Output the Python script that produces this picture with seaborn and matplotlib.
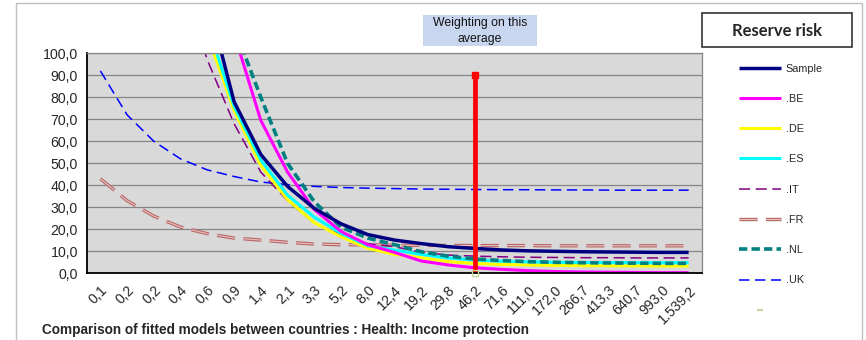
import matplotlib
matplotlib.use("Agg")
import matplotlib.pyplot as plt
from matplotlib.lines import Line2D
from matplotlib.patches import Rectangle
from matplotlib.legend_handler import HandlerTuple
import numpy as np
import pandas as pd
import seaborn as sns

# ---- data -------------------------------------------------------------
categories = ["0,1", "0,2", "0,2", "0,4", "0,6", "0,9", "1,4", "2,1", "3,3", "5,2",
              "8,0", "12,4", "19,2", "29,8", "46,2", "71,6", "111,0", "172,0",
              "266,7", "413,3", "640,7", "993,0", "1.539,2"]

sample = [520, 330, 230, 165, 125, 78, 54, 39.5, 29.5, 22.5, 17.6, 15.1, 13.5, 12.1,
          11.3, 10.6, 10.2, 10.0, 9.8, 9.7, 9.6, 9.5, 9.5]
be = [800, 480, 320, 210, 150, 109, 69.5, 46, 29, 19, 13, 9.5, 5.6, 3.8, 2.5, 1.8,
      1.2, 0.8, 0.6, 0.5, 0.4, 0.3, 0.3]
de = [480, 300, 200, 145, 108.5, 74, 49, 33.5, 23, 16.6, 11.4, 8.6, 7.1, 5.3, 4.5,
      4.0, 3.8, 3.6, 3.5, 3.4, 3.4, 3.3, 3.3]
es = [500, 310, 210, 150, 113, 76, 51.5, 35.5, 25.5, 18.2, 12.5, 10.6, 8.6, 7.0,
      6.0, 5.5, 5.2, 5.0, 4.9, 4.9, 4.8, 4.8, 4.8]
it = [420, 260, 180, 135, 97, 68, 46, 33, 22.7, 17.6, 13.5, 12.1, 9.5, 8.3, 7.8,
      7.5, 7.3, 7.2, 7.1, 7.1, 7.0, 7.0, 7.0]
fr = [43, 33, 26, 21, 18, 16, 15.1, 14.1, 13.3, 13.0, 12.9, 12.8, 12.7, 12.7, 12.6,
      12.6, 12.6, 12.5, 12.5, 12.5, 12.5, 12.5, 12.5]
nl = [900, 550, 360, 240, 165, 112, 80, 50, 32.5, 21, 16, 13, 9.8, 7.8, 6.5, 5.8,
      5.3, 5.0, 4.8, 4.7, 4.6, 4.5, 4.5]
uk = [92, 72, 60, 52, 47, 44, 41.5, 40.3, 39.5, 39, 38.7, 38.5, 38.3, 38.2, 38.1,
      38.0, 38.0, 37.9, 37.9, 37.8, 37.8, 37.8, 37.8]

weight_index = 14          # category "46,2"
weight_level = [0, 90]

# ---- styling ----------------------------------------------------------
sns.set_style("white")
plt.rcParams["font.family"] = ["Liberation Sans", "DejaVu Sans"]
plt.rcParams["lines.scale_dashes"] = False
plt.rcParams["lines.solid_capstyle"] = "butt"
plt.rcParams["lines.dash_capstyle"] = "butt"

W, H = 866, 340
fig = plt.figure(figsize=(W / 100, H / 100), dpi=100)
fig.patch.set_facecolor("white")

left, right, top, bottom = 87, 702, 53.3, 273.3
ax = fig.add_axes([left / W, 1 - bottom / H, (right - left) / W, (bottom - top) / H])
ax.set_facecolor("#D9D9D9")

xpos = np.arange(len(categories))
df = pd.DataFrame({"x": xpos, "Sample": sample, ".BE": be, ".DE": de, ".ES": es,
                   ".IT": it, ".FR": fr, ".NL": nl, ".UK": uk})

styles = {
    ".UK": dict(color="#0000FF", lw=1.1, dashes=(7.5, 4)),
    ".IT": dict(color="#800080", lw=1.1, dashes=(8, 4)),
    ".NL": dict(color="#008080", lw=2.6, dashes=(6, 3)),
    ".DE": dict(color="#FFFF00", lw=2.2, dashes=None),
    ".ES": dict(color="#00FFFF", lw=2.2, dashes=None),
    ".BE": dict(color="#FF00FF", lw=2.2, dashes=None),
    "Sample": dict(color="#000080", lw=2.5, dashes=None),
}

handles = {}

# French series: a double-line dashed pattern
fr_dash = (13, 6)
sns.lineplot(data=df, x="x", y=".FR", ax=ax, color="#B86464", lw=2.4)
l_fr1 = ax.lines[-1]
l_fr1.set_dashes(fr_dash)
sns.lineplot(data=df, x="x", y=".FR", ax=ax, color="#E8C4C4", lw=0.8)
l_fr2 = ax.lines[-1]
l_fr2.set_dashes(fr_dash)
handles[".FR"] = (l_fr1, l_fr2)

for name in [".UK", ".IT", ".DE", ".ES", ".BE", ".NL", "Sample"]:
    st = styles[name]
    sns.lineplot(data=df, x="x", y=name, ax=ax, color=st["color"], lw=st["lw"])
    line = ax.lines[-1]
    if st["dashes"] is not None:
        line.set_dashes(st["dashes"])
    handles[name] = line

# vertical weighting marker
wdf = pd.DataFrame({"x": [weight_index, weight_index], "y": weight_level})
sns.lineplot(data=wdf, x="x", y="y", ax=ax, estimator=None, sort=False,
             color="#FF0000", lw=3.4)
ax.plot([weight_index], [weight_level[1]], marker="s", ms=4.5, color="#FF0000",
        ls="none")
ax.plot([weight_index], [0], marker="s", ms=5, mfc="none", mec="#C3D69B",
        mew=1.0, ls="none", clip_on=False, zorder=5)

# ---- axes -------------------------------------------------------------
ax.set_xlim(-0.5, len(categories) - 0.5)
ax.set_ylim(0, 100)
ax.set_xlabel("")
ax.set_ylabel("")

yt = np.arange(0, 101, 10)
ax.set_yticks(yt)
ax.set_yticklabels([f"{v:.1f}".replace(".", ",") for v in yt], fontsize=10.2)
ax.yaxis.grid(True, color="#868686", lw=0.9)
ax.xaxis.grid(False)
ax.set_axisbelow(True)

ax.set_xticks(xpos)
ax.set_xticklabels(categories, rotation=45, ha="right", va="top",
                   rotation_mode="anchor", fontsize=10.2)
ax.set_xticks(np.arange(-0.5, len(categories), 1), minor=True)
ax.tick_params(axis="x", which="major", length=0, pad=7)
ax.tick_params(axis="x", which="minor", length=3.5, width=0.8, color="#404040",
               direction="out")
ax.tick_params(axis="y", which="major", length=3.5, width=0.8, color="#404040",
               direction="out", pad=3)

for s in ["left", "bottom"]:
    ax.spines[s].set_color("black")
    ax.spines[s].set_linewidth(1.3)
for s in ["top", "right"]:
    ax.spines[s].set_color("#868686")
    ax.spines[s].set_linewidth(0.9)

# ---- legend -----------------------------------------------------------
order = ["Sample", ".BE", ".DE", ".ES", ".IT", ".FR", ".NL", ".UK"]
hlist = [handles[k] for k in order]
blank = Line2D([], [], ls="none", marker="_", ms=5, mew=1.6, color="#C3D69B")
hlist.append(blank)
labels = order + [""]
leg = fig.legend(hlist, labels, loc="upper left",
                 bbox_to_anchor=(739 / W, 1 - 63.5 / H), frameon=False,
                 fontsize=7.8, handlelength=3.9, handletextpad=0.4,
                 labelspacing=1.87, borderaxespad=0, borderpad=0,
                 handler_map={tuple: HandlerTuple(ndivide=1, pad=0)})

# ---- annotations ------------------------------------------------------
fig.add_artist(Rectangle((16 / W, -0.05), (862 - 16) / W, 1.05 - 3 / H,
                         transform=fig.transFigure, fc="none", ec="#BFBFBF",
                         lw=1.0))

fig.add_artist(Rectangle((423 / W, 1 - 46 / H), 114 / W, 31 / H,
                         transform=fig.transFigure, fc="#C9D6EF", ec="none"))
fig.text(480 / W, 1 - 31 / H, "Weighting on this\naverage", ha="center",
         va="center", fontsize=8.8, linespacing=1.35, color="#111111")

fig.add_artist(Rectangle((702 / W, 1 - 47 / H), 150 / W, 34 / H,
                         transform=fig.transFigure, fc="white", ec="#333333",
                         lw=1.2))
fig.text(777 / W, 1 - 31 / H, "Reserve risk", ha="center", va="center",
         fontsize=12, fontweight="bold", family=["Lato", "DejaVu Sans"])

fig.text(42 / W, 1 - 330 / H,
         "Comparison of fitted models between countries : Health: Income protection",
         ha="left", va="center", fontsize=9.8, fontweight="bold")

fig.savefig("out.png", dpi=100)
